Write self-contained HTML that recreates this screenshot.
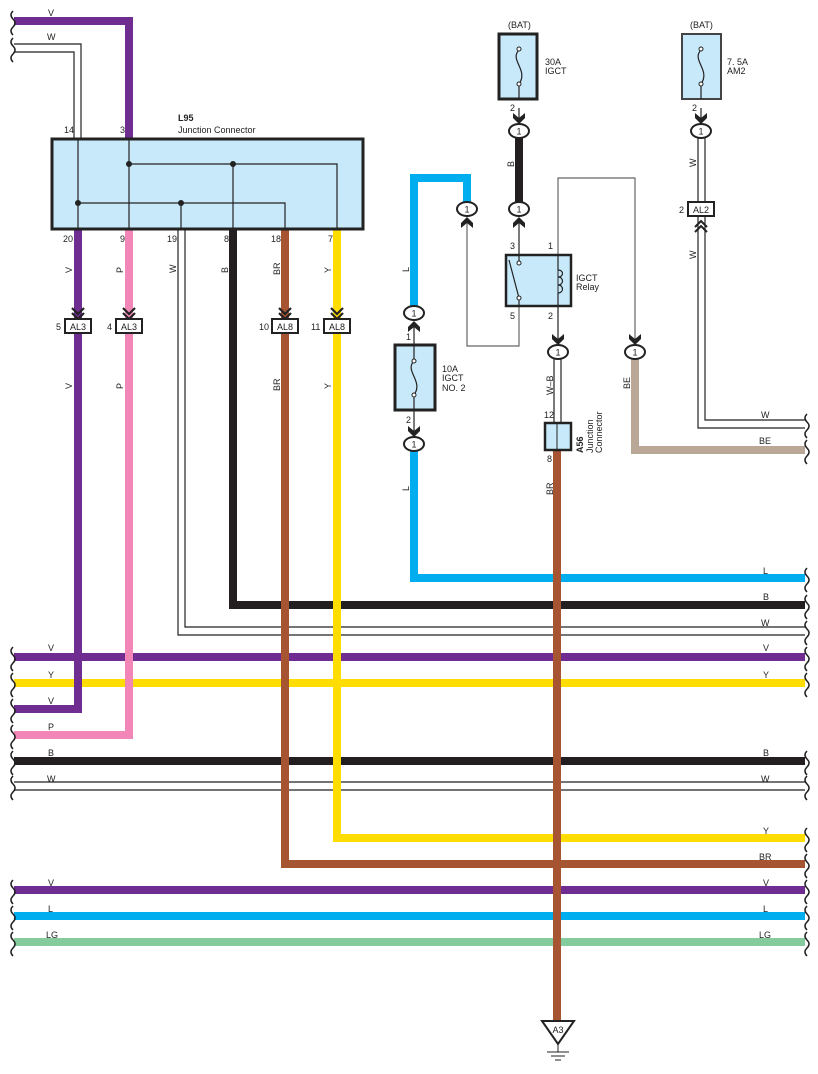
<!DOCTYPE html>
<html><head><meta charset="utf-8"><style>
html,body{margin:0;padding:0;background:#fff}
svg{display:block}
text{font-family:"Liberation Sans",sans-serif;font-size:9px;fill:#222}
</style></head><body>
<svg width="818" height="1074" viewBox="0 0 818 1074" xmlns="http://www.w3.org/2000/svg">
<defs>
<g id="c1"><ellipse cx="0" cy="0" rx="10" ry="7" fill="#fff" stroke="#222" stroke-width="2"/><text x="0" y="3.5" text-anchor="middle" font-size="9">1</text></g>
<g id="ad"><path d="M-6,-8 L0,-3 L6,-8 L6,-3 L0,3 L-6,-3Z" fill="#222"/></g>
<g id="au"><path d="M-6,8 L0,3 L6,8 L6,3 L0,-3 L-6,3Z" fill="#222"/></g>
<g id="ch"><path d="M-6,-9 L0,-3 L6,-9 M-6,-4 L0,2 L6,-4" fill="none" stroke="#222" stroke-width="2.2"/></g>
<g id="wl"><path d="M0,-10 q-4,4 0,8 q4,4 0,8 q-4,4 0,8" fill="none" stroke="#222" stroke-width="1.5"/></g>
</defs>

<g fill="none" stroke-linejoin="miter">
<path d="M414,306 L414,178 L467,178 L467,203" stroke="#00aeef" stroke-width="8"/>
<path d="M414,450 L414,578 L805,578" stroke="#00aeef" stroke-width="8"/>
<path d="M233,229 L233,605 L805,605" stroke="#231f20" stroke-width="8"/>
<path d="M178,229 L178,635 L805,635 M185,229 L185,627 L805,627" stroke="#222" stroke-width="1.2"/>
<path d="M14,657 L805,657" stroke="#6f2c91" stroke-width="8"/>
<path d="M14,683 L805,683" stroke="#ffdd00" stroke-width="8"/>
<path d="M14,761 L805,761" stroke="#231f20" stroke-width="8"/>
<path d="M14,782 L805,782 M14,790 L805,790" stroke="#222" stroke-width="1.2"/>
<path d="M337,229 L337,838 L805,838" stroke="#ffdd00" stroke-width="8"/>
<path d="M285,229 L285,864 L805,864" stroke="#a65432" stroke-width="8"/>
<path d="M14,890 L805,890" stroke="#6f2c91" stroke-width="8"/>
<path d="M14,916 L805,916" stroke="#00aeef" stroke-width="8"/>
<path d="M14,942 L805,942" stroke="#84cc9c" stroke-width="8"/>
<path d="M78,229 L78,709 L14,709" stroke="#6f2c91" stroke-width="8"/>
<path d="M129,229 L129,735 L14,735" stroke="#f287b7" stroke-width="8"/>
<path d="M557,450 L557,1022" stroke="#a65432" stroke-width="8"/>
<path d="M14,21 L129,21 L129,139" stroke="#6f2c91" stroke-width="8"/>
<path d="M14,44 L81,44 L81,139 M14,52 L74,52 L74,139" stroke="#222" stroke-width="1.2"/>
<path d="M635,358 L635,450 L805,450" stroke="#bba795" stroke-width="8"/>
<path d="M519,138 L519,203" stroke="#231f20" stroke-width="8"/>
<path d="M698,138 L698,428 L805,428 M705,138 L705,420 L805,420" stroke="#222" stroke-width="1.2"/>
<path d="M554,358 L554,424 M561,358 L561,424" stroke="#222" stroke-width="1.2"/>
<path d="M558,255 L558,178 L635,178 L635,343" stroke="#666" stroke-width="1.2"/>
<path d="M519,306 L519,346 L467,346 L467,222" stroke="#666" stroke-width="1.2"/>
<path d="M519,220 L519,255 M558,306 L558,343 M519,108 L519,124 M701,108 L701,124 M414,322 L414,345 M414,410 L414,436" stroke="#222" stroke-width="1.2"/>
</g>

<rect x="52" y="139" width="311" height="90" fill="#c8e9fa" stroke="#222" stroke-width="3"/>
<g stroke="#222" stroke-width="1.2" fill="none">
<path d="M129,139 V229 M129,164 H337 V229 M233,164 V229 M78,139 V229 M78,203 H285 V229 M181,203 V229"/>
</g>
<g fill="#222"><circle cx="129" cy="164" r="3"/><circle cx="233" cy="164" r="3"/><circle cx="78" cy="203" r="3"/><circle cx="181" cy="203" r="3"/></g>
<text x="178" y="121" font-weight="bold">L95</text>
<text x="178" y="133">Junction Connector</text>
<text x="64" y="133">14</text><text x="120" y="133">3</text>
<text x="63" y="242">20</text><text x="120" y="242">9</text><text x="167" y="242">19</text><text x="224" y="242">8</text><text x="271" y="242">18</text><text x="328" y="242">7</text>
<g font-size="9">
<text transform="translate(72,273) rotate(-90)">V</text>
<text transform="translate(123,273) rotate(-90)">P</text>
<text transform="translate(176,273) rotate(-90)">W</text>
<text transform="translate(228,273) rotate(-90)">B</text>
<text transform="translate(280,275) rotate(-90)">BR</text>
<text transform="translate(331,273) rotate(-90)">Y</text>
<text transform="translate(72,389) rotate(-90)">V</text>
<text transform="translate(123,389) rotate(-90)">P</text>
<text transform="translate(280,391) rotate(-90)">BR</text>
<text transform="translate(331,389) rotate(-90)">Y</text>
<text transform="translate(409,272) rotate(-90)">L</text>
<text transform="translate(409,491) rotate(-90)">L</text>
<text transform="translate(514,167) rotate(-90)">B</text>
<text transform="translate(696,167) rotate(-90)">W</text>
<text transform="translate(696,259) rotate(-90)">W</text>
<text transform="translate(553,395) rotate(-90)">W–B</text>
<text transform="translate(553,495) rotate(-90)">BR</text>
<text transform="translate(630,389) rotate(-90)">BE</text>
</g>
<g>
<use href="#ch" x="78" y="317"/><use href="#ch" x="129" y="317"/><use href="#ch" x="285" y="317"/><use href="#ch" x="337" y="317"/>
<rect x="65" y="319" width="26" height="14" fill="#fff" stroke="#222" stroke-width="2"/>
<rect x="116" y="319" width="26" height="14" fill="#fff" stroke="#222" stroke-width="2"/>
<rect x="272" y="319" width="26" height="14" fill="#fff" stroke="#222" stroke-width="2"/>
<rect x="324" y="319" width="26" height="14" fill="#fff" stroke="#222" stroke-width="2"/>
<text x="78" y="330" text-anchor="middle">AL3</text><text x="129" y="330" text-anchor="middle">AL3</text>
<text x="285" y="330" text-anchor="middle">AL8</text><text x="337" y="330" text-anchor="middle">AL8</text>
<text x="56" y="330">5</text><text x="107" y="330">4</text><text x="259" y="330">10</text><text x="311" y="330">11</text>
</g>

<rect x="499" y="34" width="38" height="65" fill="#c8e9fa" stroke="#222" stroke-width="3"/>
<rect x="682" y="34" width="39" height="65" fill="#c8e9fa" stroke="#444" stroke-width="2"/>
<rect x="395" y="345" width="40" height="65" fill="#c8e9fa" stroke="#222" stroke-width="3"/>
<g fill="none" stroke="#222" stroke-width="1.2">
<path d="M519,50 c-10,10 10,20 0,34 M519,84 V99"/>
<path d="M701,50 c-10,10 10,20 0,34 M701,84 V99"/>
<path d="M414,361 c-10,10 10,20 0,34 M414,345 V361 M414,395 V410"/>
</g>
<g fill="#fff" stroke="#222" stroke-width="1"><circle cx="519" cy="49" r="2"/><circle cx="519" cy="84" r="2"/><circle cx="701" cy="49" r="2"/><circle cx="701" cy="84" r="2"/><circle cx="414" cy="361" r="2"/><circle cx="414" cy="395" r="2"/></g>
<text x="508" y="28">(BAT)</text><text x="690" y="28">(BAT)</text>
<text x="545" y="65">30A</text><text x="545" y="74">IGCT</text>
<text x="727" y="65">7. 5A</text><text x="727" y="74">AM2</text>
<text x="442" y="372">10A</text><text x="442" y="381">IGCT</text><text x="442" y="391">NO. 2</text>
<text x="510" y="111">2</text><text x="692" y="111">2</text>
<text x="406" y="340">1</text><text x="406" y="423">2</text>

<rect x="506" y="255" width="65" height="51" fill="#c8e9fa" stroke="#222" stroke-width="2.5"/>
<path d="M509,260 L519,298 M519,262 V255 M519,298 V306 M558,255 V270 M558,293 V306" stroke="#222" stroke-width="1.2" fill="none"/>
<path d="M558,270 c6,0 6,7 0,7 c6,0 6,8 0,8 c6,0 6,8 0,8" stroke="#222" stroke-width="1.2" fill="none"/>
<path d="M558,270 V293" stroke="#222" stroke-width="1" fill="none"/>
<g fill="#fff" stroke="#222" stroke-width="1"><circle cx="519" cy="263" r="2"/><circle cx="519" cy="298" r="2"/></g>
<text x="576" y="281">IGCT</text><text x="576" y="290">Relay</text>
<text x="510" y="249">3</text><text x="548" y="249">1</text><text x="510" y="319">5</text><text x="548" y="319">2</text>

<use href="#ad" x="519" y="121"/><use href="#c1" x="519" y="131"/>
<use href="#ad" x="701" y="121"/><use href="#c1" x="701" y="131"/>
<use href="#c1" x="519" y="209"/><use href="#au" x="519" y="220"/>
<use href="#c1" x="467" y="209"/><use href="#au" x="467" y="220"/>
<use href="#c1" x="414" y="313"/><use href="#au" x="414" y="324"/>
<use href="#ad" x="414" y="434"/><use href="#c1" x="414" y="444"/>
<use href="#ad" x="558" y="342"/><use href="#c1" x="558" y="352"/>
<use href="#ad" x="635" y="342"/><use href="#c1" x="635" y="352"/>

<rect x="688" y="202" width="26" height="14" fill="#fff" stroke="#222" stroke-width="2"/>
<text x="701" y="213" text-anchor="middle">AL2</text><text x="679" y="213">2</text>
<path d="M695,227 L701,221 L707,227 M695,232 L701,226 L707,232" fill="none" stroke="#222" stroke-width="2"/>

<rect x="545" y="423" width="26" height="27" fill="#c8e9fa" stroke="#222" stroke-width="2.5"/>
<path d="M557,423 V450" stroke="#222" stroke-width="1"/>
<text x="544" y="418">12</text><text x="547" y="462">8</text>
<text transform="translate(583,453) rotate(-90)" font-weight="bold">A56</text>
<text transform="translate(593,453) rotate(-90)">Junction</text>
<text transform="translate(602,453) rotate(-90)">Connector</text>

<path d="M542,1021 L574,1021 L558,1044Z" fill="#fff" stroke="#222" stroke-width="2"/>
<text x="558" y="1033" text-anchor="middle" font-size="8">A3</text>
<path d="M558,1044 V1052 M547,1052 H569 M551,1056 H565 M555,1060 H561" stroke="#222" stroke-width="1"/>

<g>
<text x="48" y="16">V</text><text x="47" y="40">W</text>
<text x="763" y="574">L</text><text x="763" y="600">B</text><text x="761" y="626">W</text>
<text x="48" y="651">V</text><text x="763" y="651">V</text>
<text x="48" y="678">Y</text><text x="763" y="678">Y</text>
<text x="48" y="704">V</text><text x="48" y="730">P</text>
<text x="48" y="756">B</text><text x="763" y="756">B</text>
<text x="47" y="782">W</text><text x="761" y="782">W</text>
<text x="763" y="834">Y</text><text x="759" y="860">BR</text>
<text x="48" y="886">V</text><text x="763" y="886">V</text>
<text x="48" y="912">L</text><text x="763" y="912">L</text>
<text x="46" y="938">LG</text><text x="759" y="938">LG</text>
<text x="761" y="418">W</text><text x="759" y="444">BE</text>
</g>
<g>
<use href="#wl" x="13" y="21"/><use href="#wl" x="13" y="48"/>
<use href="#wl" x="13" y="657"/><use href="#wl" x="13" y="683"/><use href="#wl" x="13" y="709"/><use href="#wl" x="13" y="735"/><use href="#wl" x="13" y="761"/><use href="#wl" x="13" y="786"/>
<use href="#wl" x="13" y="890"/><use href="#wl" x="13" y="916"/><use href="#wl" x="13" y="942"/>
<use href="#wl" x="807" y="578"/><use href="#wl" x="807" y="605"/><use href="#wl" x="807" y="631"/><use href="#wl" x="807" y="657"/><use href="#wl" x="807" y="683"/>
<use href="#wl" x="807" y="761"/><use href="#wl" x="807" y="786"/><use href="#wl" x="807" y="838"/><use href="#wl" x="807" y="864"/>
<use href="#wl" x="807" y="890"/><use href="#wl" x="807" y="916"/><use href="#wl" x="807" y="942"/>
<use href="#wl" x="807" y="424"/><use href="#wl" x="807" y="450"/>
</g>
</svg>
</body></html>
